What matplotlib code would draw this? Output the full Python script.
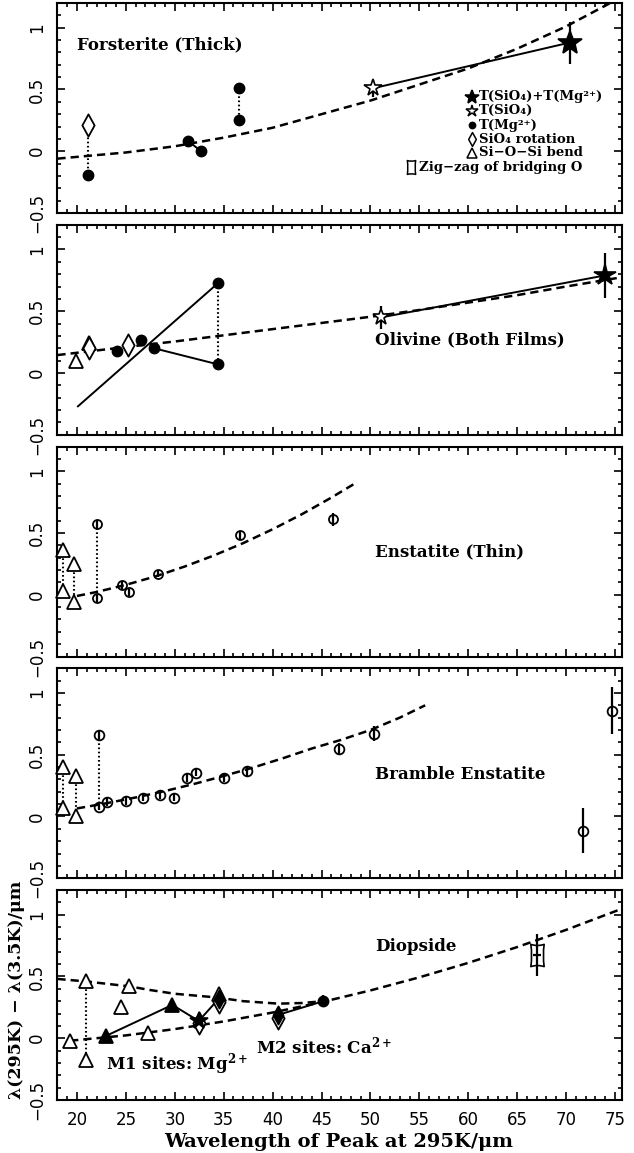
import matplotlib
matplotlib.use('Agg')
import matplotlib.pyplot as plt
from matplotlib.path import Path
from matplotlib.ticker import MultipleLocator, FixedLocator

plt.rcParams['font.family'] = ['DejaVu Serif', 'DejaVu Sans']
plt.rcParams['mathtext.default'] = 'regular'

# Forsterite (Thick)
fo_rot_x, fo_rot_y = [21.1], [0.21]
fo_mg_x = [21.1, 31.4, 32.7, 36.6, 36.6]
fo_mg_y = [-0.19, 0.08, 0.00, 0.51, 0.25]
fo_sio4_x, fo_sio4_y, fo_sio4_err = [50.3], [0.51], [0.07]
fo_both_x, fo_both_y, fo_both_err = [70.4], [0.88], [0.17]
fo_fit_x = [18, 25, 30, 35, 40, 45, 50, 55, 60, 65, 70, 75]
fo_fit_y = [-0.06, -0.01, 0.04, 0.11, 0.19, 0.30, 0.41, 0.54, 0.67, 0.83, 1.01, 1.22]

# Olivine (Both Films)
ol_tri_x, ol_tri_y = [19.9, 21.2], [0.095, 0.24]
ol_rot_x, ol_rot_y = [21.2, 25.25], [0.20, 0.225]
ol_mg_x = [24.05, 26.5, 27.9, 34.4, 34.4]
ol_mg_y = [0.176, 0.266, 0.20, 0.726, 0.07]
ol_line_x, ol_line_y = [20.1, 34.4], [-0.27, 0.726]
ol_sio4_x, ol_sio4_y, ol_sio4_err = [51.1], [0.45], [0.09]
ol_both_x, ol_both_y, ol_both_err = [74.0], [0.79], [0.18]
ol_fit_x = [18, 25, 30, 35, 40, 45, 50, 55, 60, 65, 70, 75.7]
ol_fit_y = [0.145, 0.21, 0.255, 0.305, 0.355, 0.405, 0.455, 0.51, 0.57, 0.63, 0.70, 0.775]

# Enstatite (Thin)
en_tri_x = [18.57, 18.57, 19.7, 19.7]
en_tri_y = [0.364, 0.03, 0.247, -0.06]
en_x = [22.1, 22.1, 24.57, 25.3, 28.3, 36.7, 46.2]
en_y = [0.573, -0.03, 0.08, 0.02, 0.17, 0.48, 0.61]
en_err = [0.03, 0.03, 0.03, 0.03, 0.03, 0.04, 0.05]
en_fit_x = [20, 22, 25, 28, 31, 34, 37, 40, 43, 46, 48.4]
en_fit_y = [-0.01, 0.022, 0.08, 0.148, 0.228, 0.318, 0.418, 0.53, 0.652, 0.786, 0.90]

# Bramble Enstatite
br_tri_x = [18.6, 18.6, 19.9, 19.9]
br_tri_y = [0.40, 0.07, 0.326, 0.007]
br_x = [22.25, 22.25, 23.1, 24.98, 26.8, 28.5, 29.9, 31.3, 32.2, 35.0, 37.35, 46.8, 50.4, 71.7, 74.7]
br_y = [0.66, 0.08, 0.116, 0.127, 0.153, 0.175, 0.153, 0.31, 0.355, 0.31, 0.365, 0.545, 0.67, -0.115, 0.857]
br_err = [0.03, 0.03, 0.03, 0.03, 0.03, 0.03, 0.03, 0.03, 0.03, 0.03, 0.04, 0.05, 0.06, 0.18, 0.19]
br_fit_x = [20, 23, 26, 29, 32, 35, 38, 41, 44, 47, 50, 53, 55.6]
br_fit_y = [0.065, 0.107, 0.154, 0.206, 0.264, 0.328, 0.396, 0.47, 0.55, 0.62, 0.70, 0.80, 0.90]

# Diopside
di_tri_x = [19.3, 20.9, 20.9, 24.5, 25.35, 27.3, 34.5]
di_tri_y = [-0.02, 0.46, -0.18, 0.25, 0.42, 0.04, 0.36]
di_tri_fill_x, di_tri_fill_y = [23.0, 29.75], [0.02, 0.27]
di_star_x, di_star_y = [32.45], [0.14]
di_rot_x, di_rot_y = [32.45, 34.5, 40.6], [0.12, 0.29, 0.16]
di_rot_fill_x, di_rot_fill_y = [34.5, 40.6], [0.32, 0.19]
di_mg_x, di_mg_y, di_mg_err = [45.2], [0.30], [0.05]
di_zig_x, di_zig_y, di_zig_err = [67.0], [0.67], [0.17]
di_line1_x = [23.0, 29.75, 32.45, 34.5]
di_line1_y = [0.02, 0.27, 0.14, 0.32]
di_line2_x, di_line2_y = [40.6, 45.2], [0.19, 0.30]
di_m1_x = [18, 20.9, 25.35, 27.5, 30, 34.3, 37, 40.6, 43, 45.2]
di_m1_y = [0.48, 0.46, 0.42, 0.39, 0.36, 0.33, 0.30, 0.28, 0.285, 0.30]
di_m2_x = [19.3, 25, 30, 35, 40, 45, 50, 55, 60, 65, 70, 75.7]
di_m2_y = [-0.02, 0.023, 0.074, 0.136, 0.208, 0.292, 0.387, 0.493, 0.61, 0.738, 0.877, 1.048]

xticks = [20, 25, 30, 35, 40, 45, 50, 55, 60, 65, 70, 75]
yticks = [-0.5, 0, 0.5, 1]
yticklabels = ['\u22120.5', '0', '0.5', '1']

diamond = Path([(0, 1), (0.55, 0), (0, -1), (-0.55, 0), (0, 1)],
               [Path.MOVETO, Path.LINETO, Path.LINETO, Path.LINETO, Path.CLOSEPOLY])
zigzag = Path([(-0.6, 1), (0, 0.8), (0.6, 1), (0.45, 0), (0.6, -1), (0, -0.8),
               (-0.6, -1), (-0.45, 0), (-0.6, 1), (-0.6, 1)],
              [Path.MOVETO, Path.CURVE3, Path.CURVE3, Path.CURVE3, Path.CURVE3,
               Path.CURVE3, Path.CURVE3, Path.CURVE3, Path.CURVE3, Path.CLOSEPOLY])

K = 'k'
fig = plt.figure(figsize=(6.34, 11.53), dpi=100)
W, H = 634.0, 1153.0
axes = []
for i in range(5):
    top = 3 + i * 221.75
    ax = fig.add_axes([57 / W, 1 - (top + 210) / H, 565 / W, 210 / H])
    ax.set_xlim(17.96, 75.72)
    ax.set_ylim(-0.5, 1.2)
    ax.xaxis.set_major_locator(FixedLocator(xticks))
    ax.xaxis.set_minor_locator(MultipleLocator(1))
    ax.yaxis.set_major_locator(FixedLocator(yticks))
    ax.yaxis.set_minor_locator(MultipleLocator(0.1))
    ax.tick_params(which='both', direction='in', top=True, right=True, width=1.2)
    ax.tick_params(which='major', length=6)
    ax.tick_params(which='minor', length=3)
    ax.tick_params(axis='y', pad=8)
    ax.tick_params(axis='x', pad=8)
    ax.set_yticklabels(yticklabels, rotation=90, va='center', family='DejaVu Sans', fontsize=12)
    if i < 4:
        ax.set_xticklabels([])
    else:
        ax.set_xticklabels([str(t) for t in xticks], family='DejaVu Sans', fontsize=12)
    for s in ax.spines.values():
        s.set_linewidth(1.5)
    axes.append(ax)


def fit(ax, x, y):
    ax.plot(x, y, color=K, lw=1.8, dashes=(3.3, 2.0))


def dotted(ax, x, y1, y2):
    ax.plot([x, x], [y1, y2], color=K, lw=1.5, ls=(0, (0.8, 1.2)))


def err(ax, x, y, e, xe=None):
    ax.errorbar(x, y, yerr=e, xerr=xe, fmt='none', ecolor=K, elinewidth=1.6, capsize=0)


def tri(ax, x, y, filled=False):
    err(ax, x, y, [0.03] * len(x))
    ax.plot(x, y, ls='none', marker='^', ms=9.5, mec=K, mew=1.3,
            mfc=K if filled else 'white', clip_on=False, zorder=3)


def rot(ax, x, y, filled=False, ms=16):
    ax.plot(x, y, ls='none', marker=diamond, ms=ms, mec=K, mew=1.3,
            mfc=K if filled else 'white', zorder=3)
    if not filled:
        err(ax, x, y, [0.03] * len(x))


def mg(ax, x, y):
    ax.plot(x, y, ls='none', marker='o', ms=7.5, mec=K, mfc=K, zorder=4)


def star(ax, x, y, filled, ms):
    ax.plot(x, y, ls='none', marker='*', ms=ms, mec=K, mew=1.2,
            mfc=K if filled else 'white', zorder=4)


def circ(ax, x, y, e, ms=6.5):
    err(ax, x, y, e)
    ax.plot(x, y, ls='none', marker='o', ms=ms, mec=K, mew=1.3, mfc='none', zorder=4)


lab = dict(fontsize=12, fontweight='bold', va='center')

# panel 1
ax = axes[0]
fit(ax, fo_fit_x, fo_fit_y)
dotted(ax, fo_mg_x[0], fo_rot_y[0], fo_mg_y[0])
dotted(ax, fo_mg_x[3], fo_mg_y[3], fo_mg_y[4])
ax.plot(fo_mg_x[1:3], fo_mg_y[1:3], color=K, lw=1.4)
ax.plot(fo_sio4_x + fo_both_x, fo_sio4_y + fo_both_y, color=K, lw=1.4)
rot(ax, fo_rot_x, fo_rot_y)
mg(ax, fo_mg_x, fo_mg_y)
err(ax, fo_sio4_x, fo_sio4_y, fo_sio4_err)
star(ax, fo_sio4_x, fo_sio4_y, False, 13)
err(ax, fo_both_x, fo_both_y, fo_both_err)
star(ax, fo_both_x, fo_both_y, True, 18)
ax.text(20.0, 0.86, 'Forsterite (Thick)', **lab)

# legend key
leg = [('*', K, 10, 'T(SiO\u2084)+T(Mg\u00b2\u207a)'),
       ('*', 'white', 9, 'T(SiO\u2084)'),
       ('o', K, 4.5, 'T(Mg\u00b2\u207a)'),
       (diamond, 'white', 10, 'SiO\u2084 rotation'),
       ('^', 'white', 7, 'Si\u2212O\u2212Si bend'),
       (zigzag, 'white', 10, 'Zig\u2212zag of bridging O')]
rows = [0.553, 0.486, 0.419, 0.352, 0.286, 0.217]
for (m, fc, ms, txt), yy in zip(leg, rows):
    xm, xt = (0.734, 0.747) if m is not zigzag else (0.626, 0.640)
    ax.plot([xm], [yy], transform=ax.transAxes, marker=m, ms=ms, mec=K, mfc=fc, mew=1.1, ls='none')
    ax.text(xt, yy, txt, transform=ax.transAxes, fontsize=9.5, fontweight='bold', va='center')

# panel 2
ax = axes[1]
fit(ax, ol_fit_x, ol_fit_y)
dotted(ax, ol_mg_x[3], ol_mg_y[3], ol_mg_y[4])
ax.plot(ol_line_x, ol_line_y, color=K, lw=1.4)
ax.plot([ol_mg_x[2], ol_mg_x[4]], [ol_mg_y[2], ol_mg_y[4]], color=K, lw=1.4)
ax.plot(ol_sio4_x + ol_both_x, ol_sio4_y + ol_both_y, color=K, lw=1.4)
tri(ax, ol_tri_x, ol_tri_y)
rot(ax, ol_rot_x, ol_rot_y)
mg(ax, ol_mg_x, ol_mg_y)
err(ax, ol_sio4_x, ol_sio4_y, ol_sio4_err)
star(ax, ol_sio4_x, ol_sio4_y, False, 12)
err(ax, ol_both_x, ol_both_y, ol_both_err)
star(ax, ol_both_x, ol_both_y, True, 16)
ax.text(50.5, 0.27, 'Olivine (Both Films)', **lab)

# panel 3
ax = axes[2]
fit(ax, en_fit_x, en_fit_y)
for j in (0, 2):
    dotted(ax, en_tri_x[j], en_tri_y[j], en_tri_y[j + 1])
dotted(ax, en_x[0], en_y[0], en_y[1])
tri(ax, en_tri_x, en_tri_y)
circ(ax, en_x, en_y, en_err)
ax.text(50.5, 0.35, 'Enstatite (Thin)', **lab)

# panel 4
ax = axes[3]
fit(ax, br_fit_x, br_fit_y)
for j in (0, 2):
    dotted(ax, br_tri_x[j], br_tri_y[j], br_tri_y[j + 1])
dotted(ax, br_x[0], br_y[0], br_y[1])
tri(ax, br_tri_x, br_tri_y)
circ(ax, br_x, br_y, br_err, ms=7)
ax.text(50.5, 0.34, 'Bramble Enstatite', **lab)

# panel 5
ax = axes[4]
fit(ax, di_m1_x, di_m1_y)
fit(ax, di_m2_x, di_m2_y)
dotted(ax, di_tri_x[1], di_tri_y[1], di_tri_y[2])
ax.plot(di_line1_x, di_line1_y, color=K, lw=1.4)
ax.plot(di_line2_x, di_line2_y, color=K, lw=1.4)
tri(ax, di_tri_x, di_tri_y)
rot(ax, di_rot_x, di_rot_y)
tri(ax, di_tri_fill_x, di_tri_fill_y, filled=True)
star(ax, di_star_x, di_star_y, True, 13)
rot(ax, di_rot_fill_x, di_rot_fill_y, filled=True, ms=13)
err(ax, di_mg_x, di_mg_y, di_mg_err)
mg(ax, di_mg_x, di_mg_y)
err(ax, di_zig_x, di_zig_y, di_zig_err, [0.4])
ax.plot(di_zig_x, di_zig_y, ls='none', marker=zigzag, ms=16, mec=K, mfc='none', mew=1.2)
ax.text(50.5, 0.74, 'Diopside', **lab)
ax.text(23.0, -0.21, 'M1 sites: Mg$^{2+}$', **lab)
ax.text(38.3, -0.07, 'M2 sites: Ca$^{2+}$', **lab)

fig.text(339 / W, 1 - 1142 / H, 'Wavelength of Peak at 295K/\u03bcm',
         ha='center', va='center', fontsize=14, fontweight='bold')
fig.text(17 / W, 1 - 990 / H, '\u03bb(295K) \u2212 \u03bb(3.5K)/\u03bcm',
         ha='center', va='center', rotation=90, fontsize=12.5, fontweight='bold')

fig.savefig('out.png', dpi=100)
